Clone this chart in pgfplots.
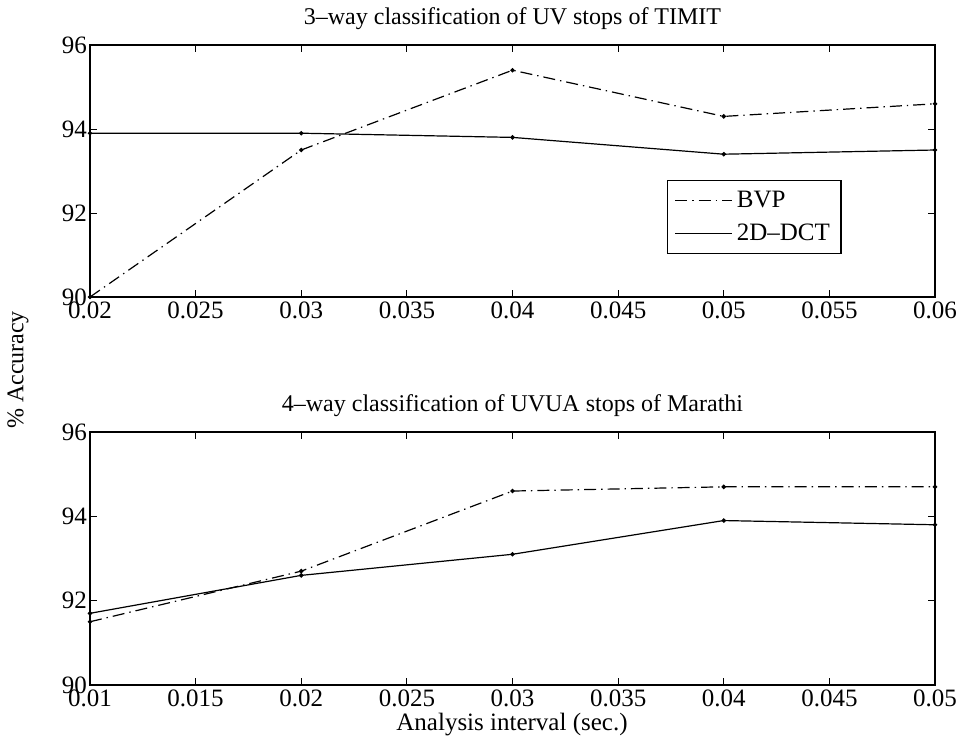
\documentclass[border=0pt]{standalone}
\usepackage{fontspec}
\setmainfont{Liberation Serif}
\usepackage{pgfplots}
\pgfplotsset{compat=1.18}
\pgfplotstableread{
x y
0.02 90.0
0.03 93.5
0.04 95.4
0.05 94.3
0.06 94.6
}\bvpA
\pgfplotstableread{
x y
0.02 93.9
0.03 93.9
0.04 93.8
0.05 93.4
0.06 93.5
}\dctA
\pgfplotstableread{
x y
0.01 91.5
0.02 92.7
0.03 94.6
0.04 94.7
0.05 94.7
}\bvpB
\pgfplotstableread{
x y
0.01 91.7
0.02 92.6
0.03 93.1
0.04 93.9
0.05 93.8
}\dctB
\begin{document}
\begin{tikzpicture}
\useasboundingbox (0pt,0pt) rectangle (479pt,370pt);
\pgfplotsset{
  myax/.style={
    scale only axis, width=422.5pt, height=126pt,
    anchor=south west,
    font=\fontsize{12.5}{14}\selectfont,
    /pgf/number format/assume math mode=true,
    axis line style={line width=0.6pt},
    major tick length=3.5pt,
    tick style={black, line width=0.5pt},
    ymin=90, ymax=96, ytick={90,92,94,96},
    scaled x ticks=false,
    xticklabel style={/pgf/number format/fixed, /pgf/number format/precision=3, yshift=1pt},
    yticklabel style={xshift=2pt},
    title style={font=\fontsize{12}{14}\selectfont},
  },
  bvp/.style={black, line width=0.6pt, dash pattern=on 6pt off 2.5pt on 0.7pt off 2.5pt, mark=*, mark size=0.8pt, mark options={solid}},
  dct/.style={black, line width=0.6pt, solid, mark=*, mark size=0.8pt},
}
\begin{axis}[myax, at={(45pt,221.5pt)},
  xmin=0.02, xmax=0.06, xtick={0.02,0.025,...,0.06},
  xticklabels={0.02,0.025,0.03,0.035,0.04,0.045,0.05,0.055,0.06},
  title={3--way classification of UV stops of TIMIT},
  title style={yshift=-2pt},
  legend style={at={(0.683,0.464)}, anchor=north west, draw=black, line width=0.6pt,
    font=\fontsize{12.5}{14}\selectfont, row sep=3pt, inner xsep=3.5pt, inner ysep=3pt},
  legend cell align=left,
  legend image code/.code={\draw[#1, mark=none] (0pt,0pt) -- (1cm,0pt);},
]
\addplot[bvp] table[x=x,y=y] {\bvpA};
\addlegendentry{BVP}
\addplot[dct] table[x=x,y=y] {\dctA};
\addlegendentry{2D--DCT}
\end{axis}
\begin{axis}[myax, at={(45pt,27.5pt)}, height=126.5pt,
  xmin=0.01, xmax=0.05, xtick={0.01,0.015,...,0.05},
  xticklabels={0.01,0.015,0.02,0.025,0.03,0.035,0.04,0.045,0.05},
  title={4--way classification of UVUA stops of Marathi},
  title style={yshift=-2pt},
]
\addplot[bvp] table[x=x,y=y] {\bvpB};
\addplot[dct] table[x=x,y=y] {\dctB};
\end{axis}
\node[rotate=90, font=\fontsize{12}{14}\selectfont] at (9pt,185pt) {\% Accuracy};
\node[font=\fontsize{12.5}{14}\selectfont] at (256pt,7.5pt) {Analysis interval (sec.)};
\end{tikzpicture}
\end{document}
